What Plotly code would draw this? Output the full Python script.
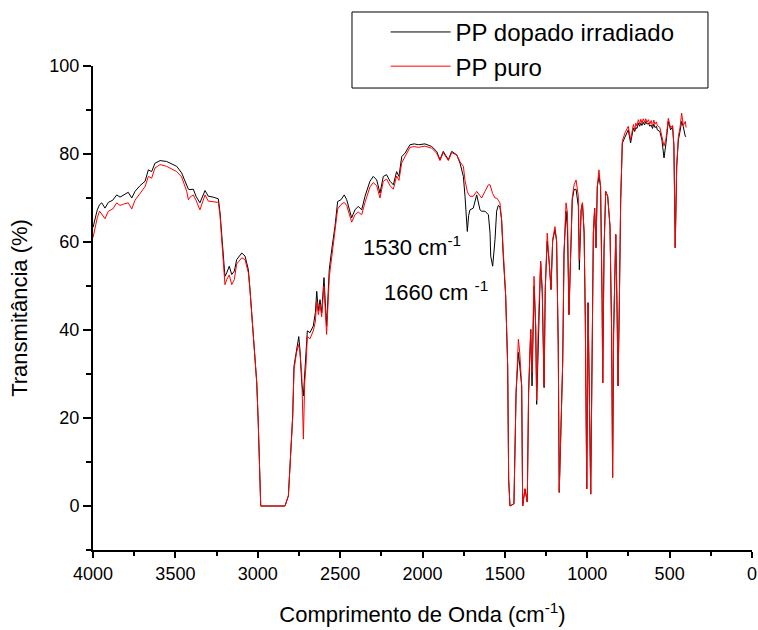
import plotly.graph_objects as go

# Wavenumber (cm^-1) and transmittance (%)
wavenumber = [
    4000, 3985, 3974, 3960, 3947, 3927, 3907, 3880, 3856, 3836, 3816, 3786, 3765, 3745, 3715, 3684,
    3664, 3644, 3624, 3593, 3553, 3520, 3492, 3462, 3431, 3421, 3411, 3391, 3375, 3351, 3320, 3300,
    3270, 3239, 3229, 3219, 3209, 3199, 3188, 3173, 3158, 3142, 3128, 3097, 3077, 3057, 3047, 3027,
    3006, 2997, 2990, 2982, 2900, 2835, 2814, 2800, 2788, 2780, 2764, 2751, 2744, 2733, 2723, 2715,
    2707, 2699, 2683, 2663, 2650, 2642, 2632, 2622, 2612, 2598, 2582, 2566, 2551, 2531, 2515, 2495,
    2475, 2460, 2430, 2410, 2390, 2369, 2349, 2319, 2299, 2278, 2258, 2238, 2218, 2197, 2177, 2157,
    2143, 2126, 2106, 2076, 2050, 2025, 1985, 1960, 1944, 1914, 1894, 1874, 1843, 1823, 1792, 1772,
    1752, 1742, 1732, 1728, 1720, 1712, 1692, 1671, 1651, 1641, 1621, 1600, 1590, 1586, 1574, 1560,
    1550, 1540, 1530, 1520, 1510, 1495, 1483, 1477, 1469, 1445, 1432, 1418, 1410, 1398, 1392, 1378,
    1364, 1356, 1343, 1335, 1323, 1313, 1307, 1298, 1283, 1273, 1262, 1255, 1243, 1230, 1220, 1210,
    1196, 1186, 1176, 1170, 1161, 1149, 1141, 1129, 1120, 1111, 1091, 1080, 1068, 1054, 1048, 1037,
    1029, 1019, 1012, 1003, 995, 979, 963, 955, 947, 939, 929, 919, 910, 906, 898, 888,
    876, 862, 852, 846, 840, 827, 820, 813, 805, 797, 787, 771, 751, 737, 720, 712,
    705, 698, 690, 682, 675, 668, 660, 652, 645, 637, 629, 620, 612, 604, 596, 589,
    580, 575, 559, 547, 534, 522, 508, 494, 482, 474, 466, 457, 447, 437, 427, 417,
    405, 400,
]

pp_dopado_irradiado = [
    63.3, 66.0, 67.3, 68.5, 68.9, 67.7, 69.0, 69.5, 70.7, 70.2, 70.7, 71.3, 70.0, 71.5, 72.8, 73.8,
    76.4, 76.0, 77.9, 78.5, 78.3, 77.8, 77.2, 75.7, 72.6, 72.0, 71.9, 72.0, 70.4, 68.9, 71.7, 70.4,
    70.2, 69.8, 66.7, 61.3, 56.0, 52.2, 53.0, 54.5, 52.6, 53.4, 56.0, 57.5, 56.8, 53.7, 49.2, 39.4,
    28.0, 19.0, 9.1, 0.0, 0.0, 0.0, 2.3, 12.2, 20.5, 31.8, 36.0, 38.5, 35.6, 28.0, 25.0, 30.0,
    33.3, 39.8, 39.4, 40.9, 44.0, 48.8, 44.3, 46.9, 43.9, 51.9, 40.9, 53.7, 58.3, 63.6, 69.2, 69.6,
    70.7, 69.6, 65.5, 67.3, 68.1, 67.3, 70.4, 73.8, 74.9, 74.1, 71.1, 74.9, 75.3, 73.8, 73.0, 76.0,
    74.9, 79.4, 80.2, 82.1, 82.3, 82.1, 82.3, 82.0, 81.7, 80.6, 78.7, 80.6, 78.7, 80.6, 79.8, 77.9,
    74.9, 70.4, 64.0, 62.4, 66.0, 67.3, 67.7, 70.7, 67.3, 67.0, 67.0, 66.2, 62.0, 56.8, 54.5, 60.5,
    67.0, 68.3, 68.0, 65.1, 56.8, 47.7, 31.8, 6.1, 0.0, 0.5, 25.8, 34.9, 32.0, 27.3, 0.0, 3.9,
    0.9, 25.8, 40.1, 27.3, 50.0, 40.9, 23.1, 36.3, 55.6, 48.5, 26.9, 49.2, 60.2, 54.9, 49.2, 60.2,
    62.8, 60.2, 36.3, 3.1, 15.2, 32.6, 57.5, 67.0, 62.8, 43.5, 69.6, 71.9, 72.0, 68.1, 53.7, 67.3,
    68.9, 62.1, 43.1, 3.9, 46.2, 2.7, 62.1, 67.7, 58.7, 72.6, 74.9, 72.6, 46.9, 28.0, 58.3, 71.5,
    70.4, 63.6, 39.4, 6.5, 39.4, 61.7, 46.9, 27.3, 46.9, 69.6, 82.5, 84.0, 85.5, 82.5, 85.9, 85.1,
    86.0, 85.8, 87.0, 86.3, 87.0, 86.5, 87.2, 86.6, 87.4, 86.8, 87.0, 86.3, 86.6, 85.8, 86.8, 86.0,
    86.3, 85.5, 85.1, 83.2, 79.1, 82.5, 87.4, 85.5, 86.2, 81.7, 58.7, 77.2, 83.2, 85.1, 87.4, 86.2,
    84.0, 84.0,
]

pp_puro = [
    61.0, 63.5, 65.5, 67.0, 66.3, 65.3, 67.0, 67.5, 68.9, 68.3, 68.6, 68.9, 67.5, 69.5, 71.0, 72.6,
    74.9, 74.5, 76.8, 77.6, 77.2, 76.6, 76.0, 74.8, 71.5, 69.6, 70.2, 70.7, 69.5, 67.3, 70.7, 69.3,
    69.2, 69.0, 66.0, 60.5, 55.0, 50.3, 51.5, 52.5, 50.3, 51.5, 55.0, 56.4, 56.0, 53.0, 49.0, 39.4,
    28.0, 19.0, 9.1, 0.0, 0.0, 0.0, 2.3, 12.0, 20.0, 31.0, 35.0, 36.7, 35.0, 30.0, 15.2, 28.0,
    32.0, 38.5, 38.0, 39.8, 42.0, 46.5, 43.5, 45.8, 43.0, 50.0, 39.0, 52.0, 57.0, 62.5, 67.5, 68.5,
    69.0, 68.3, 64.5, 66.2, 66.8, 66.2, 69.0, 72.5, 73.5, 72.8, 70.0, 73.8, 74.3, 72.8, 72.0, 75.0,
    74.0, 78.0, 79.5, 81.5, 81.7, 81.5, 81.8, 81.5, 81.3, 80.2, 78.5, 80.3, 78.5, 80.3, 79.8, 78.2,
    77.2, 74.0, 71.9, 71.5, 70.8, 70.4, 70.4, 71.5, 70.5, 70.0, 71.5, 73.0, 73.0, 72.5, 71.0, 70.0,
    70.0, 69.5, 68.9, 65.1, 56.8, 47.7, 31.8, 6.1, 0.0, 0.5, 25.8, 37.9, 35.0, 27.3, 0.0, 3.9,
    0.9, 25.8, 40.1, 30.3, 52.2, 40.9, 24.0, 40.1, 55.6, 49.2, 27.3, 49.2, 62.0, 54.9, 49.2, 60.5,
    63.5, 60.2, 36.3, 3.1, 15.2, 32.6, 57.5, 68.9, 66.6, 43.5, 70.0, 73.0, 74.1, 70.4, 56.0, 67.3,
    68.9, 62.1, 43.1, 3.9, 46.2, 2.7, 62.1, 67.7, 58.7, 72.6, 76.4, 72.6, 46.9, 28.0, 58.3, 71.5,
    70.4, 63.6, 39.4, 6.5, 39.4, 61.7, 46.9, 27.3, 46.9, 69.6, 83.0, 84.8, 86.3, 83.2, 86.7, 85.5,
    87.0, 86.3, 87.8, 86.8, 87.9, 87.0, 88.0, 87.2, 88.0, 87.2, 87.8, 86.8, 87.6, 86.3, 87.7, 86.8,
    87.3, 86.5, 86.0, 84.2, 81.8, 83.5, 88.1, 86.0, 86.5, 82.0, 58.7, 77.2, 84.0, 86.0, 89.3, 86.5,
    87.4, 86.0,
]

series_names = ["PP dopado irradiado", "PP puro"]
series_colors = ["#000000", "#FF0000"]

FONT = "Liberation Sans, Arial, Helvetica, sans-serif"

fig = go.Figure()
for name, vals, col in zip(series_names, [pp_dopado_irradiado, pp_puro], series_colors):
    fig.add_trace(go.Scatter(x=wavenumber, y=vals, mode="lines", name=name,
                             line=dict(color=col, width=1)))

fig.update_layout(
    width=758, height=630,
    margin=dict(l=93, r=6, t=66, b=80),
    paper_bgcolor="white", plot_bgcolor="white",
    font=dict(family=FONT, color="black", size=18),
    showlegend=True,
    legend=dict(x=0.444, y=1.116, xanchor="left", yanchor="top",
                bgcolor="rgba(0,0,0,0)", borderwidth=0,
                font=dict(size=24, family=FONT), itemwidth=60,
                tracegroupgap=0),
    xaxis=dict(range=[4000, 0], tickmode="linear", tick0=0, dtick=500, automargin=False,
               showline=True, linecolor="black", linewidth=2,
               ticks="outside", ticklen=6, tickwidth=1.5, tickcolor="black",
               minor=dict(ticks="outside", dtick=250, ticklen=4, tickwidth=1.5, tickcolor="black"),
               showgrid=False, zeroline=False,
               tickfont=dict(size=18),
               title=dict(text="Comprimento de Onda (cm<sup>-1</sup>)", font=dict(size=22), standoff=24)),
    yaxis=dict(range=[-10, 100], tickmode="linear", tick0=0, dtick=20, automargin=False,
               showline=True, linecolor="black", linewidth=2,
               ticks="outside", ticklen=8, tickwidth=1.5, tickcolor="black",
               minor=dict(ticks="outside", dtick=10, ticklen=5, tickwidth=1.5, tickcolor="black"),
               showgrid=False, zeroline=False,
               tickfont=dict(size=18),
               title=dict(text="Transmitância (%)", font=dict(size=22), standoff=16)),
    shapes=[dict(type="rect", xref="paper", yref="paper",
                 x0=0.393, x1=0.9332, y0=0.9545, y1=1.1116,
                 line=dict(color="black", width=1), fillcolor="rgba(0,0,0,0)")],
    annotations=[
        dict(x=2064, y=59.2, xref="x", yref="y", showarrow=False,
             text="1530 cm<sup>-1</sup>", font=dict(size=22, family=FONT)),
        dict(x=1918, y=48.8, xref="x", yref="y", showarrow=False,
             text="1660 cm <sup>-1</sup>", font=dict(size=22, family=FONT)),
    ],
)

fig.write_html("out.html", config={"displayModeBar": False},
               post_script="document.body.style.margin='0px';document.body.style.padding='0px';")
